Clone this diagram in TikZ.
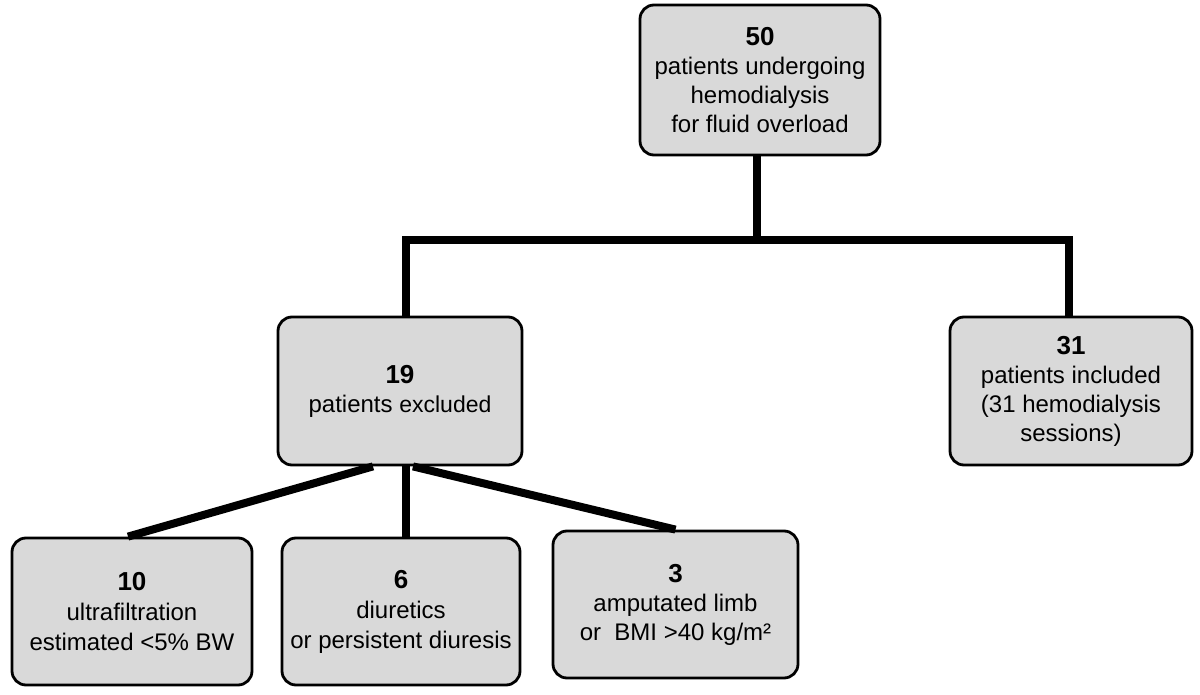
\documentclass[tikz,border=0pt]{standalone}
\usepackage{fontspec}
\setmainfont{Liberation Sans}
\definecolor{boxgray}{RGB}{217,217,217}
\tikzset{
  flowbox/.style={draw=black, fill=boxgray, line width=1.4pt, rounded corners=7pt,
    align=center, inner sep=0pt, font=\fontsize{12}{14.5}\selectfont},
  link/.style={line width=4pt, line join=miter, line cap=butt}
}
\begin{document}
\begin{tikzpicture}[x=0.5pt, y=-0.5pt]
\useasboundingbox (0,0) rectangle (1200,695);

\node[flowbox, minimum width=120pt, minimum height=75pt] (top) at (760,80)
  {{\fontsize{13}{14.5}\selectfont\textbf{50}}\\patients undergoing\\hemodialysis\\for fluid overload};
\node[flowbox, minimum width=122pt, minimum height=74pt] (excl) at (400,391)
  {\fontsize{13}{15}\selectfont\textbf{19}\\patients {\fontsize{11.5}{15}\selectfont excluded}};
\node[flowbox, minimum width=121pt, minimum height=74pt] (incl) at (1071,391)
  {{\fontsize{13}{14.5}\selectfont\textbf{31}}\\patients included\\(31 hemodialysis\\sessions)};
\node[flowbox, minimum width=120pt, minimum height=73.5pt, font=\fontsize{12}{15}\selectfont] (uf) at (132,611.5)
  {{\fontsize{13}{15}\selectfont\textbf{10}}\\ultrafiltration\\estimated <5\% BW};
\node[flowbox, minimum width=119pt, minimum height=73.5pt, font=\fontsize{12}{15}\selectfont] (diu) at (401,611.5)
  {{\fontsize{13}{15}\selectfont\textbf{6}}\\diuretics\\or persistent diuresis};
\node[flowbox, minimum width=122.5pt, minimum height=73.5pt] (amp) at (675.5,604.5)
  {{\fontsize{13}{14.5}\selectfont\textbf{3}}\\amputated limb\\or\ \ BMI >40 kg/m²};

\coordinate (hl) at (757,240.5);
\draw[link] ([xshift=-1.5pt]top.south) -- ([xshift=-1.5pt]top.south |- hl);
\draw[link] ([xshift=3pt]excl.north) |- (hl) -| ([xshift=-1pt]incl.north);
\draw[link] ([xshift=-13.5pt]excl.south) -- ([xshift=-2pt]uf.north);
\draw[link] ([xshift=3pt]excl.south) -- ([xshift=3pt]excl.south |- diu.north);
\draw[link] ([xshift=6.5pt]excl.south) -- (amp.north);
\end{tikzpicture}
\end{document}
